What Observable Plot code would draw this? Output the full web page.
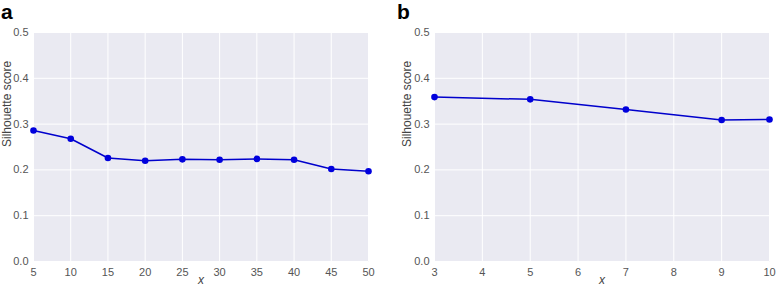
<!DOCTYPE html>
<html><head><meta charset="utf-8">
<script src="https://cdn.jsdelivr.net/npm/d3@7"></script>
<script src="https://cdn.jsdelivr.net/npm/@observablehq/plot@0.6"></script>
<style>
body{margin:0;background:#fff;font-family:"Liberation Sans",Arial,sans-serif;}
#wrap{position:relative;width:778px;height:287px;overflow:hidden;}
.pl{position:absolute;top:0;}
.pl svg{overflow:visible;}
.lab{position:absolute;font-weight:bold;font-size:21px;color:#000;line-height:21px;}
</style></head><body>
<div id="wrap">
  <div class="pl" id="pa" style="left:0"></div>
  <div class="pl" id="pb" style="left:390px"></div>
  <div class="lab" style="left:1px;top:1px">a</div>
  <div class="lab" style="left:397px;top:1px">b</div>
</div>
<script>
const xA = [5,10,15,20,25,30,35,40,45,50];
const yA = [0.286,0.268,0.226,0.220,0.223,0.222,0.224,0.222,0.202,0.197];
const xB = [3,5,7,9,10];
const yB = [0.359,0.354,0.332,0.309,0.310];
const yTicks = [0,0.1,0.2,0.3,0.4,0.5];
const xTicksA = [5,10,15,20,25,30,35,40,45,50];
const xTicksB = [3,4,5,6,7,8,9,10];

function chart(xs, ys, xTicks, opts){
  const data = xs.map((x,i)=>({x, y: ys[i]}));
  return Plot.plot({
    width: opts.width, height: 287,
    marginLeft: opts.ml, marginRight: opts.mr, marginTop: 32, marginBottom: 26,
    style: {fontFamily: '"Liberation Sans",Arial,sans-serif', fontSize: "11px", color: "#555", background: "transparent", overflow: "visible"},
    x: {domain: [xTicks[0], xTicks[xTicks.length-1]], label: null},
    y: {domain: [0,0.5], label: null},
    marks: [
      Plot.frame({fill: "#EAEAF2", stroke: null}),
      Plot.gridX(xTicks, {stroke: "#fff", strokeOpacity: 1, strokeWidth: 1}),
      Plot.gridY(yTicks, {stroke: "#fff", strokeOpacity: 1, strokeWidth: 1}),
      Plot.axisX({ticks: xTicks, tickSize: 0, tickPadding: 7, tickFormat: d3.format("d"), fill: "#555", fontSize: 11, label: null}),
      Plot.axisY({ticks: yTicks, tickSize: 0, tickPadding: 5, tickFormat: d3.format(".1f"), fill: "#555", fontSize: 11, label: null}),
      Plot.line(data, {x: "x", y: "y", stroke: "#0000CC", strokeWidth: 1.5}),
      Plot.dot(data, {x: "x", y: "y", fill: "#0000DD", r: 3.3, stroke: null}),
      Plot.text(["x"], {frameAnchor: "bottom", dy: 22, fontStyle: "italic", fontSize: 12, fill: "#444", text: d => d}),
      Plot.text(["Silhouette score"], {frameAnchor: "left", dx: opts.ylx, rotate: -90, fontSize: 12, fill: "#444", text: d => d})
    ]
  });
}
document.getElementById("pa").append(chart(xA, yA, xTicksA, {width: 390, ml: 33, mr: 22, ylx: -26}));
document.getElementById("pb").append(chart(xB, yB, xTicksB, {width: 388, ml: 44, mr: 9, ylx: -27}));
</script>
</body></html>
